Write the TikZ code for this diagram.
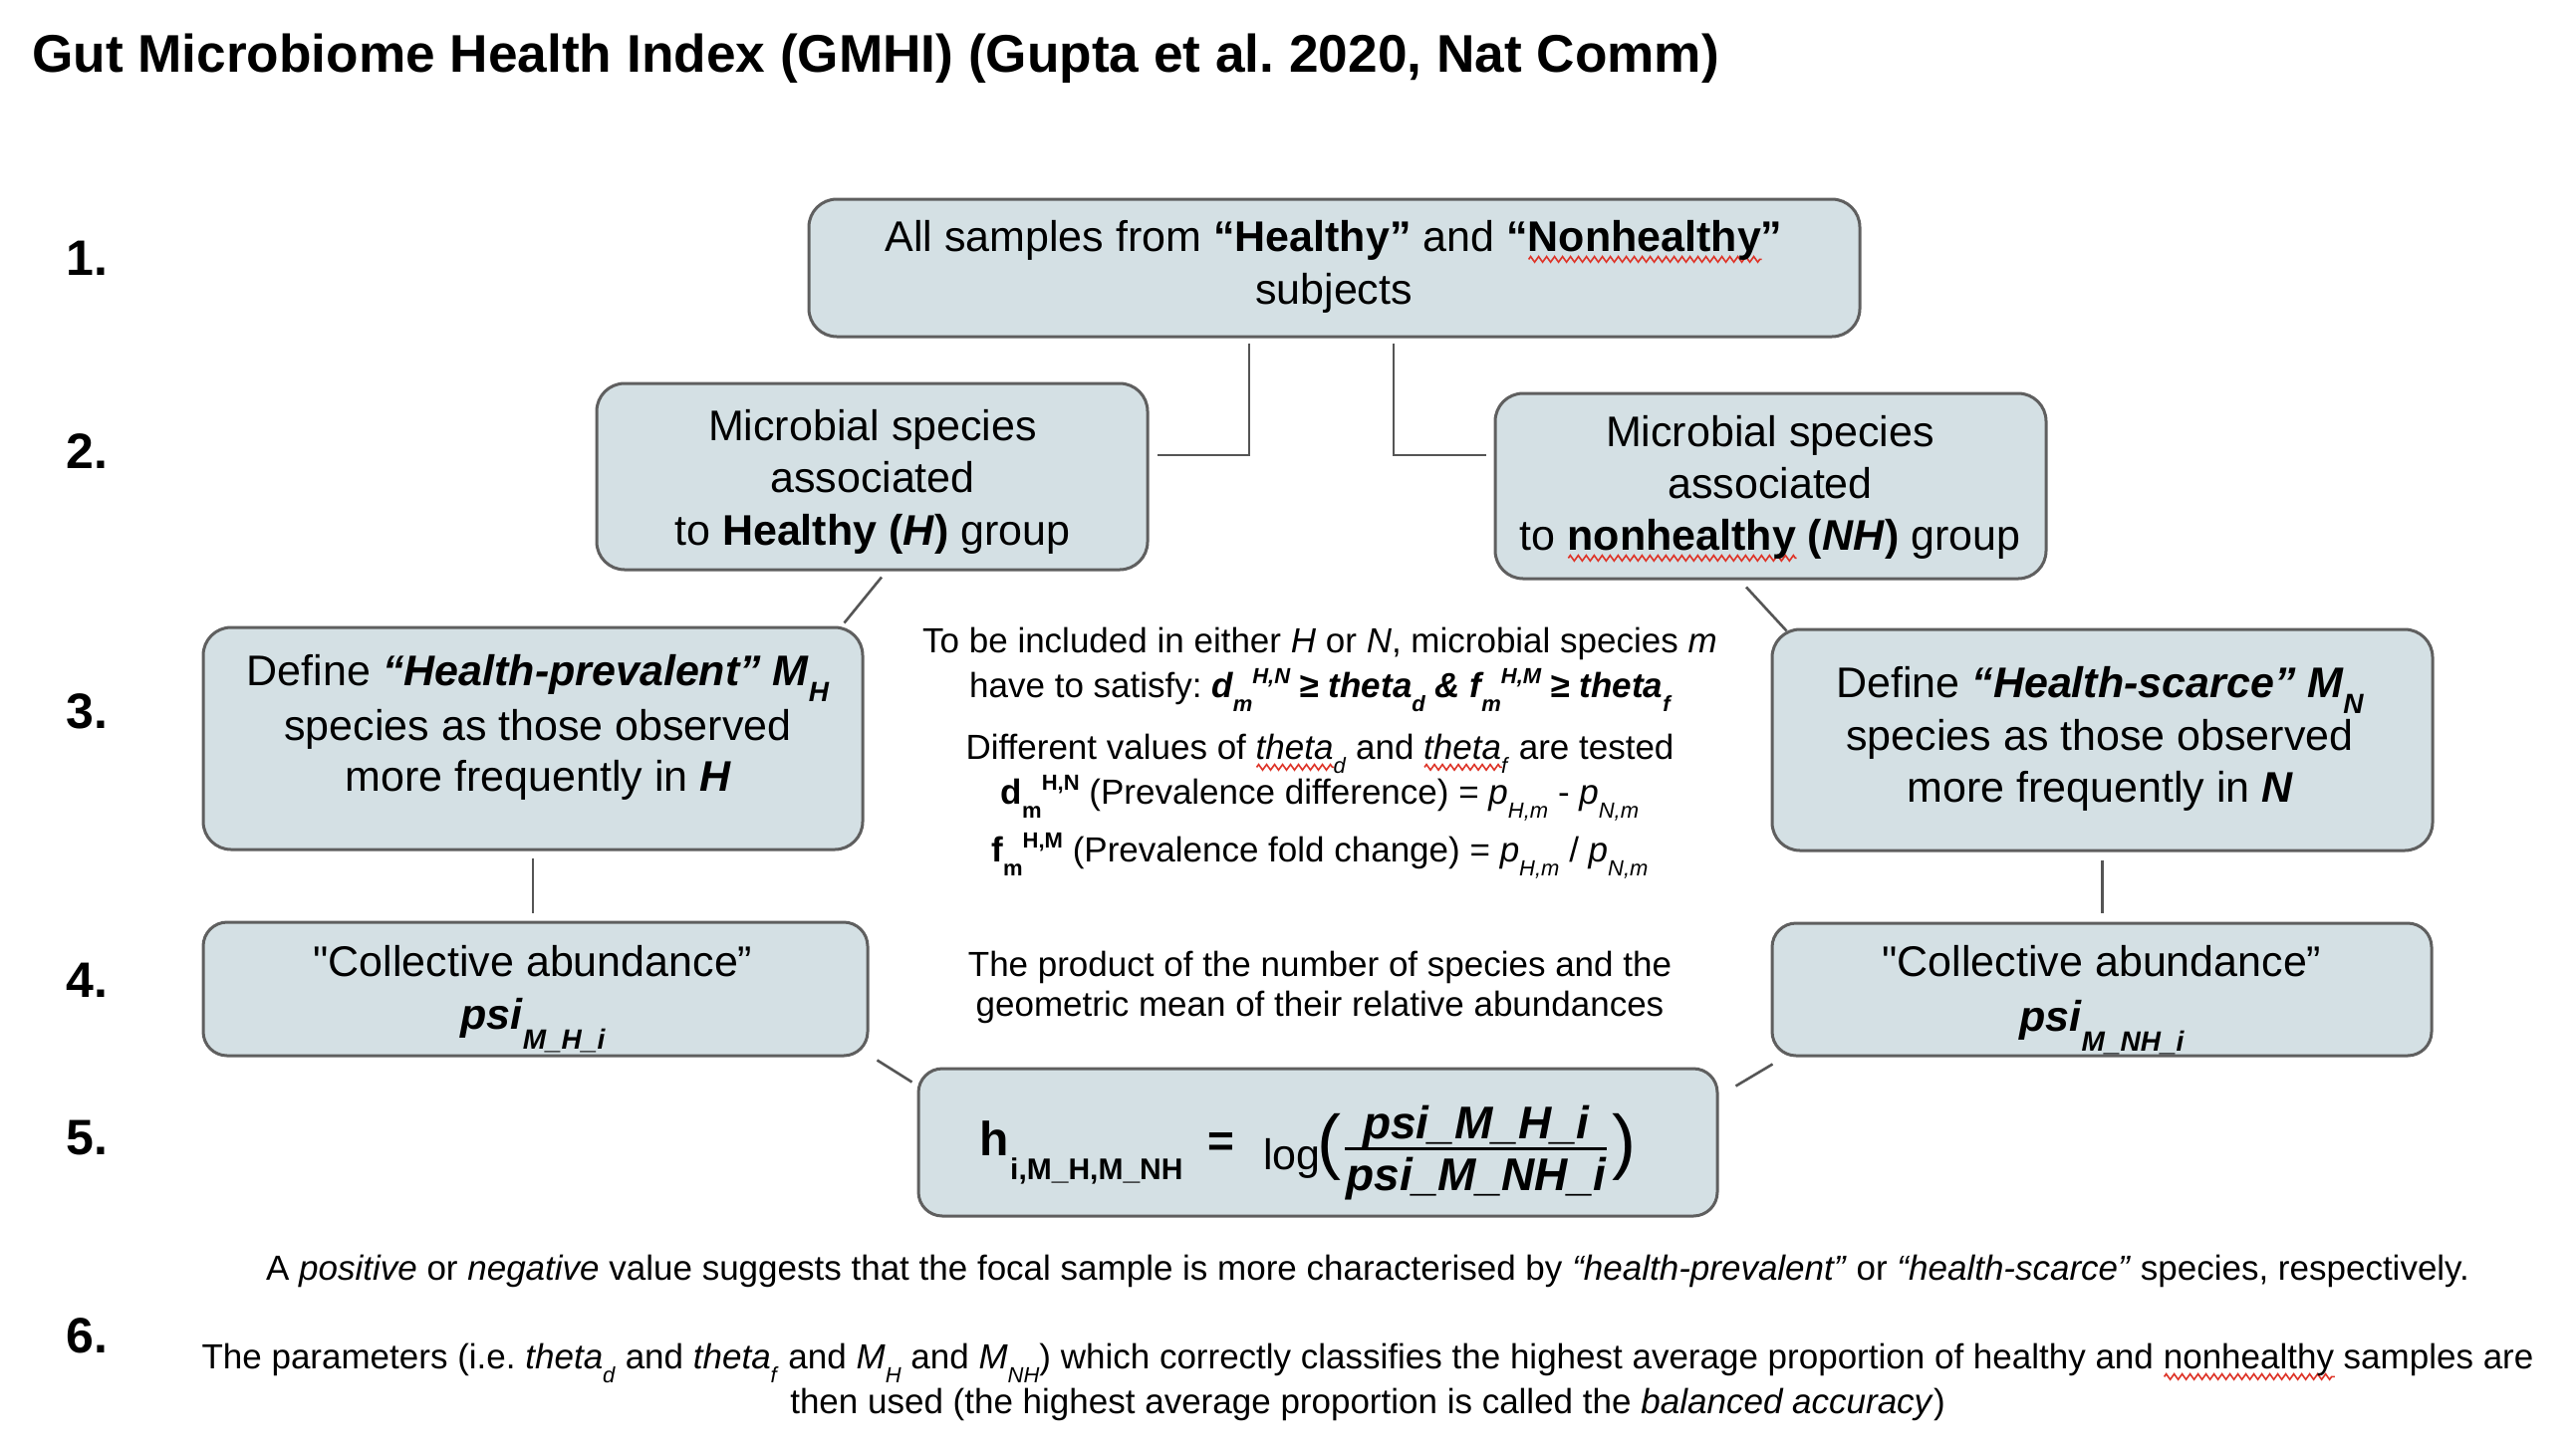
\documentclass[tikz,border=0pt]{standalone}
\usepackage{fontspec}
\setmainfont{Liberation Sans}
\newfontfamily\sqfont{Liberation Sans}[Ligatures=TeXOff]
\usepackage{xcolor}
\usetikzlibrary{decorations.pathmorphing}
\definecolor{boxfill}{RGB}{212,224,228}
\definecolor{boxline}{RGB}{95,95,95}
\definecolor{connc}{RGB}{85,85,85}
\definecolor{squigred}{RGB}{222,52,40}
\newlength\squigw
\newcommand\squig[1]{\settowidth{\squigw}{#1}\rlap{\raisebox{-12pt}{\tikz\draw[squigred, line width=1.6pt, decorate, decoration={zigzag, segment length=8pt, amplitude=2.8pt}] (0pt,0pt) -- (\squigw,0pt);}}#1}
\newcommand\mysub[3]{\raisebox{-#1pt}{\fontsize{#2}{#2}\selectfont #3}}
\newcommand\mysup[3]{\raisebox{#1pt}{\fontsize{#2}{#2}\selectfont #3}}
\newcommand\csub[1]{\mysub{14}{22}{#1}}
\newcommand\csup[1]{\mysup{14}{22}{#1}}
\frenchspacing
\tikzset{
  box/.style={draw=boxline, line width=3pt, fill=boxfill, rounded corners=28pt, inner sep=0pt},
  conn/.style={draw=connc, line width=2.6pt},
  txt/.style={anchor=base, inner sep=0pt, font=\fontsize{43}{52}\selectfont},
  ctxt/.style={anchor=base, inner sep=0pt, font=\fontsize{35}{40}\selectfont},
  num/.style={anchor=west, inner sep=0pt, font=\fontsize{50}{50}\selectfont\bfseries},
}
\begin{document}
\begin{tikzpicture}[x=1pt,y=-1pt]
\fill[white] (0,0) rectangle (2586,1460);
\path[use as bounding box] (0,0) rectangle (2586,1460);

% title
\node[anchor=base west, inner sep=0pt, font=\fontsize{53.2}{60}\selectfont\bfseries] (title) at (32,72)
  {Gut Microbiome Health Index (GMHI) (Gupta et al. 2020, Nat Comm)};

% row numbers
\node[num] (n1) at (66,259) {1.};
\node[num] (n2) at (66,453) {2.};
\node[num] (n3) at (66,714) {3.};
\node[num] (n4) at (66,984) {4.};
\node[num] (n5) at (66,1143) {5.};
\node[num] (n6) at (66,1341) {6.};

% boxes
\node[box, minimum width=1055pt, minimum height=138pt] (box1) at (1339.5,269) {};
\node[box, minimum width=553pt, minimum height=187pt] (box2L) at (875.5,478.5) {};
\node[box, minimum width=553pt, minimum height=186pt] (box2R) at (1777.5,488) {};
\node[box, minimum width=662pt, minimum height=223pt] (box3L) at (535,741.5) {};
\node[box, minimum width=663pt, minimum height=222pt] (box3R) at (2110.5,743) {};
\node[box, minimum width=667pt, minimum height=134pt, rounded corners=24pt] (box4L) at (537.5,993) {};
\node[box, minimum width=662pt, minimum height=133pt, rounded corners=24pt] (box4R) at (2110,993.5) {};
\node[box, minimum width=802pt, minimum height=148pt, rounded corners=24pt] (box5) at (1323,1147) {};

% connectors
\coordinate (v3L) at (box3L.south |- box4L.north);
\coordinate (v3R) at (box3R.south |- box4R.north);
\draw[conn] ([xshift=-85.5pt,yshift=-5pt]box1.south) |- ([xshift=8pt,yshift=21.5pt]box2L.east);
\draw[conn] ([xshift=59.5pt,yshift=-5pt]box1.south) |- ([xshift=-8pt,yshift=31pt]box2R.west);
\draw[conn] ([xshift=9.5pt,yshift=-6pt]box2L.south) -- ([xshift=-20pt,yshift=3pt]box3L.north east);
\draw[conn] ([xshift=-24.5pt,yshift=-7pt]box2R.south) -- ([xshift=16pt,yshift=-3pt]box3R.north west);
\draw[conn] ([yshift=-7pt]box3L.south) -- ([yshift=8pt]v3L);
\draw[conn] ([yshift=-8pt]box3R.south) -- ([yshift=9pt]v3R);
\draw[conn] ([xshift=8pt,yshift=-3pt]box4L.south east) -- ([xshift=-5pt,yshift=-15pt]box5.north west);
\draw[conn] ([xshift=17pt,yshift=-19pt]box5.north east) -- ([xshift=2pt,yshift=-7pt]box4R.south west);

% box 1 text
\node[txt] (t1a) at (1339,252) {All samples from \textbf{“Healthy”} and \textbf{“\squig{Nonhealthy}”}};
\node[txt] (t1b) at (1339,305) {subjects};

% box 2 texts
\node[txt] (t2La) at (876,442) {Microbial species};
\node[txt] (t2Lb) at (876,494.5) {associated};
\node[txt] (t2Lc) at (876,547) {to \textbf{Healthy (\textit{H})} group};
\node[txt] (t2Ra) at (1777,448) {Microbial species};
\node[txt] (t2Rb) at (1777,500) {associated};
\node[txt] (t2Rc) at (1777,552) {to \textbf{\squig{nonhealthy} (\textit{NH})} group};

% box 3 texts
\node[txt] (t3La) at (540,688) {Define {\bfseries\itshape “Health-prevalent” M\mysub{16}{28}{H}}};
\node[txt] (t3Lb) at (540,743) {species as those observed};
\node[txt] (t3Lc) at (540,794) {more frequently in {\bfseries\itshape H}};
\node[txt] (t3Ra) at (2108,700) {Define {\bfseries\itshape “Health-scarce” M\mysub{16}{28}{N}}};
\node[txt] (t3Rb) at (2108,753) {species as those observed};
\node[txt] (t3Rc) at (2108,805) {more frequently in {\bfseries\itshape N}};

% box 4 texts
\node[txt] (t4La) at (535,980) {{\sqfont "}Collective abundance”};
\node[txt] (t4Lb) at (535,1033) {{\bfseries\itshape psi\mysub{20}{28}{M\_H\_i}}};
\node[txt] (t4Ra) at (2110,980) {{\sqfont "}Collective abundance”};
\node[txt] (t4Rb) at (2110,1035) {{\bfseries\itshape psi\mysub{20}{28}{M\_NH\_i}}};

% centre texts
\node[ctxt] (c1) at (1325,655) {To be included in either \textit{H} or \textit{N}, microbial species \textit{m}};
\node[ctxt] (c2) at (1325,700) {have to satisfy: {\bfseries\itshape d\csub{m}\csup{H,N} ≥ theta\csub{d} \& f\csub{m}\csup{H,M} ≥ theta\csub{f}}};
\node[ctxt] (c3) at (1325,762) {Different values of \textit{\squig{theta}}\csub{\textit{d}} and \textit{\squig{theta}}\csub{\textit{f}} are tested};
\node[ctxt] (c4) at (1325,807) {{\bfseries d\csub{m}\csup{H,N}} (Prevalence difference) = \textit{p}\csub{\textit{H,m}} - \textit{p}\csub{\textit{N,m}}};
\node[ctxt] (c5) at (1325,865) {{\bfseries f\csub{m}\csup{H,M}} (Prevalence fold change) = \textit{p}\csub{\textit{H,m}} / \textit{p}\csub{\textit{N,m}}};
\node[ctxt] (c6) at (1325,980) {The product of the number of species and the};
\node[ctxt] (c7) at (1325,1020) {geometric mean of their relative abundances};

% formula
\node[anchor=base west, inner sep=0pt, font=\fontsize{48}{48}\selectfont\bfseries] (fh) at (983,1160) {h};
\node[anchor=base west, inner sep=0pt, font=\fontsize{30}{30}\selectfont\bfseries] (fhs) at (1014,1184) {i,M\_H,M\_NH};
\node[inner sep=0pt, font=\fontsize{46}{46}\selectfont\bfseries] (feq) at (1226,1150) {=};
\node[anchor=base west, inner sep=0pt, font=\fontsize{43}{43}\selectfont] (flog) at (1268,1174) {log};
\node[inner sep=0pt, font=\fontsize{72}{72}\selectfont] (flp) at (1334,1152) {(};
\node[anchor=base, inner sep=0pt, font=\fontsize{46}{46}\selectfont\bfseries\itshape] (fnum) at (1482,1143) {psi\_M\_H\_i};
\node[anchor=base, inner sep=0pt, font=\fontsize{46}{46}\selectfont\bfseries\itshape] (fden) at (1482,1195) {psi\_M\_NH\_i};
\node[inner sep=0pt, font=\fontsize{72}{72}\selectfont] (frp) at (1630,1152) {)};
\coordinate (fbl) at (1350,1153);
\coordinate (fbr) at (1613,1153);
\draw[line width=3pt] (fbl) -- (fbr);

% bottom texts
\node[ctxt] (b1) at (1373,1285) {A \textit{positive} or \textit{negative} value suggests that the focal sample is more characterised by \textit{“health-prevalent”} or \textit{“health-scarce”} species, respectively.};
\node[ctxt] (b2) at (1373,1374) {The parameters (i.e. \textit{theta}\csub{\textit{d}} and \textit{theta}\csub{\textit{f}} and \textit{M}\csub{\textit{H}} and \textit{M}\csub{\textit{NH}}) which correctly classifies the highest average proportion of healthy and \squig{nonhealthy} samples are};
\node[ctxt] (b3) at (1373,1419) {then used (the highest average proportion is called the \textit{balanced accuracy})};
\end{tikzpicture}
\end{document}
